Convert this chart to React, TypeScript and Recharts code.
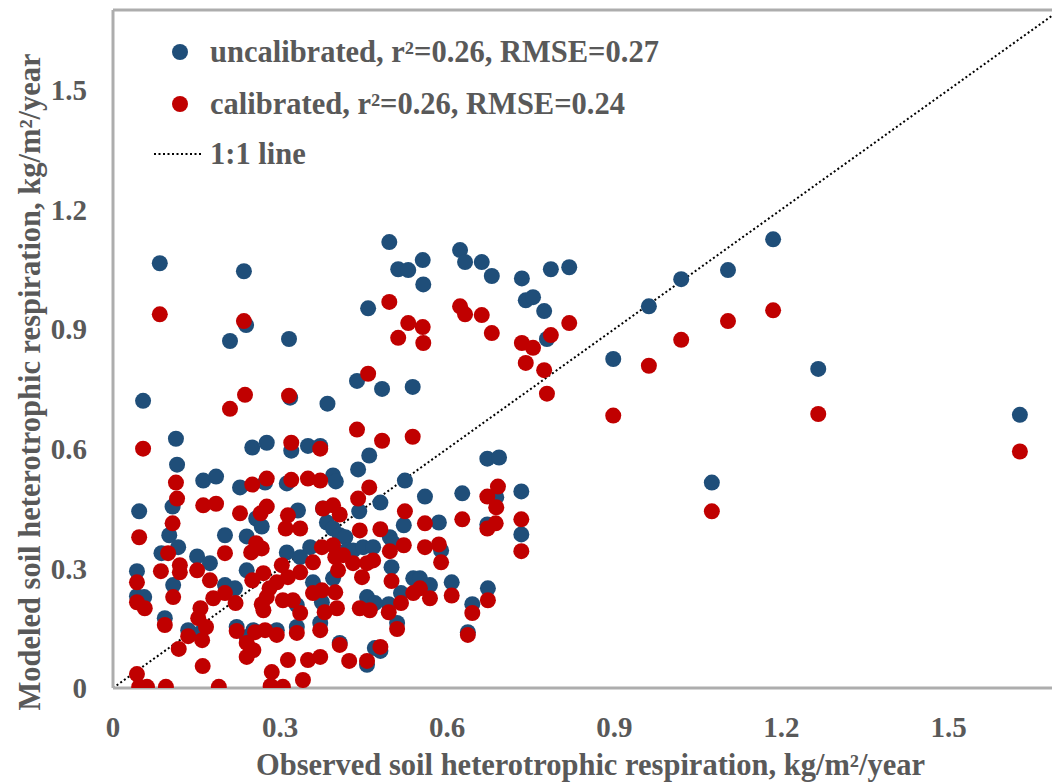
import { Legend, ReferenceLine, Scatter, ScatterChart, XAxis, YAxis } from "recharts";

const axisMax = 1.7;
const xTicks = [0, 0.3, 0.6, 0.9, 1.2, 1.5];
const yTicks = [0, 0.3, 0.6, 0.9, 1.2, 1.5];

const seriesLabels = ["uncalibrated, r²=0.26, RMSE=0.27", "calibrated, r²=0.26, RMSE=0.24", "1:1 line"];
const xTitle = "Observed soil heterotrophic respiration, kg/m²/year";
const yTitle = "Modeled soil heterotrophic respiration, kg/m²/year";

// [observed, modeled]
const uncalibrated: [number, number][] = [
  [0.084, 1.065], [0.235, 1.045], [0.239, 0.91], [0.21, 0.87], [0.316, 0.875], [0.318, 0.728], [0.054, 0.72],
  [0.385, 0.713], [0.113, 0.625], [0.438, 0.77], [0.483, 0.75], [0.538, 0.755], [0.458, 0.952], [0.496, 1.118],
  [0.512, 1.05], [0.53, 1.048], [0.556, 1.073], [0.557, 1.012], [0.623, 1.098], [0.632, 1.068], [0.662, 1.068],
  [0.68, 1.033], [0.734, 1.027], [0.741, 0.972], [0.754, 0.98], [0.774, 0.945], [0.786, 1.05], [0.819, 1.055],
  [0.779, 0.875], [0.962, 0.957], [1.02, 1.025], [1.104, 1.048], [1.185, 1.125], [1.266, 0.8], [0.898, 0.825],
  [1.075, 0.515], [1.628, 0.685],
  [0.672, 0.575], [0.693, 0.578], [0.672, 0.41], [0.688, 0.478], [0.733, 0.493], [0.733, 0.385], [0.524, 0.52],
  [0.56, 0.48], [0.585, 0.415], [0.589, 0.345], [0.627, 0.488], [0.522, 0.408], [0.48, 0.465], [0.497, 0.378],
  [0.5, 0.303], [0.539, 0.275], [0.551, 0.275], [0.569, 0.258], [0.608, 0.265], [0.517, 0.238], [0.495, 0.21],
  [0.51, 0.163], [0.673, 0.25], [0.645, 0.21], [0.637, 0.14], [0.48, 0.093],
  [0.25, 0.603], [0.276, 0.615], [0.32, 0.595], [0.35, 0.607], [0.372, 0.607], [0.115, 0.56], [0.46, 0.583],
  [0.44, 0.548], [0.162, 0.52], [0.185, 0.53], [0.107, 0.455], [0.228, 0.503], [0.273, 0.515], [0.312, 0.513],
  [0.395, 0.533], [0.4, 0.518], [0.047, 0.443], [0.257, 0.425], [0.267, 0.405], [0.332, 0.445], [0.377, 0.45],
  [0.384, 0.415], [0.395, 0.4], [0.407, 0.383], [0.442, 0.443], [0.101, 0.383], [0.117, 0.353], [0.201, 0.383],
  [0.24, 0.38], [0.087, 0.338], [0.151, 0.33], [0.174, 0.313], [0.043, 0.293], [0.108, 0.258], [0.043, 0.23],
  [0.056, 0.228], [0.201, 0.258], [0.219, 0.25], [0.24, 0.295], [0.312, 0.34], [0.336, 0.328], [0.354, 0.353],
  [0.417, 0.378], [0.42, 0.345], [0.431, 0.345], [0.449, 0.353], [0.467, 0.353], [0.503, 0.363], [0.359, 0.265],
  [0.395, 0.275], [0.33, 0.208], [0.375, 0.215], [0.456, 0.228], [0.47, 0.213], [0.093, 0.175], [0.135, 0.145],
  [0.157, 0.138], [0.24, 0.128], [0.252, 0.145], [0.294, 0.145], [0.222, 0.153], [0.33, 0.153], [0.372, 0.163],
  [0.407, 0.113], [0.47, 0.1], [0.456, 0.058],
];

const calibrated: [number, number][] = [
  [0.084, 0.937], [0.235, 0.92], [0.237, 0.735], [0.21, 0.7], [0.316, 0.733], [0.054, 0.6], [0.458, 0.788],
  [0.438, 0.648], [0.483, 0.62], [0.538, 0.63], [0.496, 0.968], [0.53, 0.915], [0.512, 0.878], [0.556, 0.905],
  [0.557, 0.865], [0.623, 0.957], [0.632, 0.937], [0.662, 0.935], [0.68, 0.89], [0.734, 0.865], [0.754, 0.853],
  [0.741, 0.815], [0.774, 0.797], [0.786, 0.885], [0.819, 0.915], [0.779, 0.738], [0.962, 0.808], [1.02, 0.873],
  [1.104, 0.92], [1.185, 0.947], [1.266, 0.687], [0.898, 0.683], [1.075, 0.443], [1.628, 0.593],
  [0.691, 0.505], [0.672, 0.48], [0.688, 0.453], [0.687, 0.413], [0.672, 0.4], [0.733, 0.423], [0.733, 0.343],
  [0.524, 0.443], [0.56, 0.413], [0.585, 0.36], [0.56, 0.353], [0.589, 0.315], [0.627, 0.423], [0.522, 0.358],
  [0.48, 0.398], [0.497, 0.343], [0.5, 0.268], [0.539, 0.238], [0.551, 0.25], [0.569, 0.225], [0.608, 0.232],
  [0.517, 0.213], [0.495, 0.19], [0.51, 0.148], [0.673, 0.22], [0.645, 0.188], [0.637, 0.133], [0.48, 0.103],
  [0.32, 0.615], [0.372, 0.6], [0.162, 0.458], [0.185, 0.462], [0.113, 0.515], [0.115, 0.475], [0.107, 0.413],
  [0.25, 0.51], [0.276, 0.525], [0.32, 0.522], [0.35, 0.525], [0.372, 0.52], [0.46, 0.503], [0.44, 0.475],
  [0.047, 0.378], [0.228, 0.438], [0.265, 0.438], [0.276, 0.455], [0.314, 0.433], [0.31, 0.4], [0.336, 0.4],
  [0.377, 0.45], [0.395, 0.458], [0.407, 0.435], [0.443, 0.395], [0.099, 0.338], [0.12, 0.308], [0.12, 0.29],
  [0.201, 0.338], [0.248, 0.34], [0.257, 0.363], [0.267, 0.35], [0.086, 0.293], [0.151, 0.295], [0.174, 0.27],
  [0.043, 0.265], [0.108, 0.228], [0.043, 0.215], [0.057, 0.2], [0.201, 0.238], [0.22, 0.213], [0.18, 0.225],
  [0.25, 0.27], [0.27, 0.288], [0.294, 0.265], [0.303, 0.308], [0.314, 0.278], [0.336, 0.29], [0.281, 0.25],
  [0.276, 0.228], [0.305, 0.22], [0.323, 0.22], [0.267, 0.21], [0.27, 0.195], [0.359, 0.315], [0.375, 0.353],
  [0.395, 0.358], [0.399, 0.328], [0.413, 0.333], [0.404, 0.295], [0.431, 0.313], [0.456, 0.313], [0.467, 0.32],
  [0.447, 0.278], [0.359, 0.238], [0.375, 0.245], [0.399, 0.24], [0.336, 0.188], [0.38, 0.19], [0.402, 0.2],
  [0.443, 0.2], [0.461, 0.195], [0.093, 0.158], [0.135, 0.13], [0.16, 0.12], [0.167, 0.153], [0.153, 0.175],
  [0.157, 0.2], [0.24, 0.113], [0.255, 0.14], [0.273, 0.145], [0.294, 0.133], [0.252, 0.095], [0.24, 0.078],
  [0.222, 0.143], [0.33, 0.138], [0.372, 0.145], [0.407, 0.108], [0.314, 0.07], [0.35, 0.07], [0.372, 0.078],
  [0.424, 0.068], [0.456, 0.068], [0.118, 0.098], [0.161, 0.055], [0.285, 0.04], [0.341, 0.02], [0.043, 0.035],
  [0.047, 0.003], [0.061, 0.003], [0.095, 0.003], [0.19, 0.003], [0.283, 0.005], [0.305, 0.003],
];

const BLUE = "#1F4E79";
const RED = "#C00000";
const TEXT = "#595959";
const FRAME = "#ADADAD";
const FONT = "'Liberation Serif', 'Times New Roman', serif";

const tickStyle = { fill: TEXT, fontSize: 29, fontWeight: 700, fontFamily: FONT };
const titleStyle = { fill: TEXT, fontSize: 30.5, fontWeight: 700, fontFamily: FONT };

const toRows = (pts: [number, number][]) => pts.map(([x, y]) => ({ x, y }));

const dot = (color: string) => (props: any) => <circle cx={props.cx} cy={props.cy} r={8} fill={color} />;

function LegendBox() {
  const rowY = [32, 84, 134];
  return (
    <svg width={580} height={160} style={{ overflow: "visible" }}>
      <circle cx={40} cy={rowY[0]} r={8} fill={BLUE} />
      <circle cx={40} cy={rowY[1]} r={8} fill={RED} />
      <line x1={14} x2={61} y1={rowY[2]} y2={rowY[2]} stroke="#000" strokeWidth={2} strokeDasharray="2 2.5" />
      {seriesLabels.map((t, i) => (
        <text key={t} x={70} y={rowY[i]} dominantBaseline="central" {...titleStyle}>{t}</text>
      ))}
    </svg>
  );
}

export default function App() {
  return (
    <div style={{ position: "fixed", left: 0, top: 0, width: 1052, height: 783, overflow: "hidden", background: "#fff" }}>
      <ScatterChart width={1075} height={783} margin={{ top: 10, right: 15, bottom: 0, left: 0 }}>
        <XAxis
          type="number"
          dataKey="x"
          domain={[0, axisMax]}
          ticks={xTicks}
          allowDataOverflow
          height={95}
          tickLine={false}
          tickSize={0}
          tickMargin={28}
          axisLine={{ stroke: FRAME, strokeWidth: 3 }}
          tick={tickStyle}
          label={{ value: xTitle, position: "insideBottom", offset: 8, dx: 4, ...titleStyle }}
        />
        <YAxis
          type="number"
          dataKey="y"
          domain={[0, axisMax]}
          ticks={yTicks}
          allowDataOverflow
          width={113}
          tickLine={false}
          tickSize={0}
          tickMargin={26}
          axisLine={{ stroke: FRAME, strokeWidth: 3 }}
          tick={tickStyle}
          label={{ value: yTitle, angle: -90, position: "center", dx: -27, dy: 33, ...titleStyle }}
        />
        <ReferenceLine y={axisMax} stroke={FRAME} strokeWidth={3} />
        <ReferenceLine x={axisMax} stroke={FRAME} strokeWidth={3} />
        <ReferenceLine
          segment={[{ x: 0, y: 0 }, { x: axisMax, y: axisMax }]}
          stroke="#000"
          strokeWidth={2}
          strokeDasharray="2 2.5"
        />
        <Scatter name={seriesLabels[0]} data={toRows(uncalibrated)} fill={BLUE} shape={dot(BLUE)} isAnimationActive={false} />
        <Scatter name={seriesLabels[1]} data={toRows(calibrated)} fill={RED} shape={dot(RED)} isAnimationActive={false} />
        <Legend
          layout="vertical"
          align="center"
          verticalAlign="middle"
          content={() => <LegendBox />}
          wrapperStyle={{ position: "absolute", left: 140, top: 20, width: 580, height: 160 }}
        />
      </ScatterChart>
    </div>
  );
}
